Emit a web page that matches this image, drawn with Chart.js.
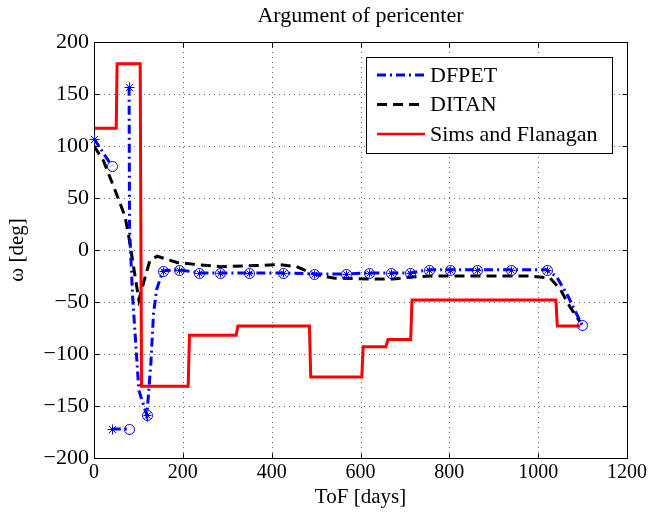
<!DOCTYPE html>
<html>
<head>
<meta charset="utf-8">
<title>Argument of pericenter</title>
<script src="https://cdn.jsdelivr.net/npm/chart.js@4.4.1/dist/chart.umd.min.js"></script>
<style>
  html, body { margin: 0; padding: 0; background: #fff; }
  #wrap { width: 653px; height: 513px; }
</style>
</head>
<body>
<div id="wrap"><canvas id="chart" width="653" height="513"></canvas></div>
<script>
// axis ticks
const xTicks = [0, 200, 400, 600, 800, 1000, 1200];
const yTicks = [-200, -150, -100, -50, 0, 50, 100, 150, 200];

const seriesNames = ['DFPET', 'DITAN', 'Sims and Flanagan'];

// DFPET: three legs, null y breaks the line; marks: * leg start, o leg end, @ node
const dfpetX = [0, 40, 40, 40, 79, 79, 79, 80, 87, 94, 101, 119, 128, 134, 141, 155, 192, 237, 284, 350, 425, 495,
                568, 620, 668, 712, 755, 802, 863, 938, 1019, 1042, 1068, 1087, 1099];
const dfpetY = [107, 81, null, -172, -172, null, 157, 20, -45, -90, -135, -159, -109, -61, -38, -20, -19, -22, -22, -22, -22, -23,
                -23, -22, -22, -22, -19, -19, -19, -19, -19, -26, -45, -62, -72];
const dfpetMark = ['*', 'o', '', '*', 'o', '', '*', '', '', '', '', '@', '', '', '', '@', '@', '@', '@', '@', '@', '@',
                   '@', '@', '@', '@', '@', '@', '@', '@', '@', '', '', '', 'o'];

// DITAN
const ditanX = [0, 21, 47, 70, 78, 89, 101, 115, 126, 142, 187, 231, 284, 366, 419, 456, 494, 539, 629, 673, 712, 757,
                862, 982, 1027, 1050, 1072, 1094];
const ditanY = [100, 86, 58, 32, 14, -16, -48, -26, -10, -6, -12, -14, -16, -15, -14, -16, -23, -27, -28, -28, -26, -25,
                -25, -25, -27, -38, -55, -69];

// Sims and Flanagan
const simsX = [0, 50, 52, 104, 107, 212, 215, 320, 324, 485, 488, 603, 606, 657, 662, 713, 716, 1040, 1043, 1095];
const simsY = [117, 117, 179, 179, -131, -131, -82, -82, -73, -73, -122, -122, -93, -93, -86, -86, -48, -48, -73, -73];

const BLUE = '#0000ff';
const RED = '#ff0000';
const SERIF = '"Liberation Serif", "Times New Roman", serif';

function pts(xs, ys) {
    return xs.map((x, i) => ({ x: x, y: ys[i] }));
}

function fmt(v) {
    return v < 0 ? '\u2212' + Math.abs(v) : String(v);
}

function drawMark(ctx, kind, x, y) {
    const cx = Math.round(x) + 0.5, cy = Math.round(y) + 0.5;
    ctx.beginPath();
    if (kind === 'o' || kind === '@') {
        ctx.moveTo(cx + 5, cy);
        ctx.arc(cx, cy, 5, 0, Math.PI * 2);
    }
    if (kind === '*' || kind === '@') {
        const r = kind === '*' ? 5 : 4;
        const d = r * 0.72;
        ctx.moveTo(cx - r, cy); ctx.lineTo(cx + r, cy);
        ctx.moveTo(cx, cy - r); ctx.lineTo(cx, cy + r);
        ctx.moveTo(cx - d, cy - d); ctx.lineTo(cx + d, cy + d);
        ctx.moveTo(cx - d, cy + d); ctx.lineTo(cx + d, cy - d);
    }
    ctx.stroke();
}

// dotted grid, box, inward ticks and DFPET markers like the original figure
const framePlugin = {
    id: 'frame',
    beforeDatasetsDraw(chart) {
        const { ctx, chartArea: a, scales: { x, y } } = chart;
        ctx.save();
        ctx.strokeStyle = 'rgba(0,0,0,0.6)';
        ctx.lineWidth = 1;
        ctx.setLineDash([1, 4]);
        xTicks.slice(1, -1).forEach(v => {
            const px = Math.round(x.getPixelForValue(v)) + 0.5;
            ctx.beginPath(); ctx.moveTo(px, a.top); ctx.lineTo(px, a.bottom); ctx.stroke();
        });
        yTicks.slice(1, -1).forEach(v => {
            const py = Math.round(y.getPixelForValue(v)) + 0.5;
            ctx.beginPath(); ctx.moveTo(a.left, py); ctx.lineTo(a.right, py); ctx.stroke();
        });
        ctx.restore();
    },
    afterDatasetsDraw(chart) {
        const { ctx, chartArea: a, scales: { x, y } } = chart;

        const L = Math.round(a.left) + 0.5, R = Math.round(a.right) + 0.5;
        const T = Math.round(a.top) + 0.5, B = Math.round(a.bottom) + 0.5;
        ctx.save();
        ctx.strokeStyle = '#000';
        ctx.lineWidth = 1;
        ctx.strokeRect(L, T, R - L, B - T);
        const len = 5;
        ctx.beginPath();
        xTicks.forEach(v => {
            const px = Math.round(x.getPixelForValue(v)) + 0.5;
            ctx.moveTo(px, B); ctx.lineTo(px, B - len);
            ctx.moveTo(px, T); ctx.lineTo(px, T + len);
        });
        yTicks.forEach(v => {
            const py = Math.round(y.getPixelForValue(v)) + 0.5;
            ctx.moveTo(L, py); ctx.lineTo(L + len, py);
            ctx.moveTo(R, py); ctx.lineTo(R - len, py);
        });
        ctx.stroke();
        ctx.restore();

        // markers on the DFPET legs
        const meta = chart.getDatasetMeta(0);
        ctx.save();
        ctx.strokeStyle = BLUE;
        ctx.lineWidth = 1;
        meta.data.forEach((p, i) => {
            if (dfpetMark[i]) drawMark(ctx, dfpetMark[i], p.x, p.y);
        });
        ctx.restore();
    },
    afterDraw(chart) {
        // legend box in the upper right corner of the axes
        const ctx = chart.ctx;
        const bx = 366.5, by = 57.5, bw = 246, bh = 96;
        ctx.save();
        ctx.fillStyle = '#fff';
        ctx.fillRect(bx, by, bw, bh);
        ctx.strokeStyle = '#000';
        ctx.lineWidth = 1;
        ctx.strokeRect(bx, by, bw, bh);
        ctx.font = '22px ' + SERIF;
        ctx.textBaseline = 'middle';
        ctx.fillStyle = '#000';
        chart.data.datasets.slice().sort((p, q) => p.legendIndex - q.legendIndex).forEach((ds, i) => {
            const ly = 75 + i * 29.5;
            ctx.save();
            ctx.strokeStyle = ds.borderColor;
            ctx.lineWidth = ds.legendWidth;
            ctx.setLineDash(ds.borderDash || []);
            ctx.beginPath();
            ctx.moveTo(377, ly);
            ctx.lineTo(425, ly);
            ctx.stroke();
            ctx.restore();
            ctx.fillText(ds.label, 430, ly + 1);
        });
        ctx.restore();
    }
};

Chart.defaults.font.family = SERIF;
Chart.defaults.color = '#000';

const canvas = document.getElementById('chart');
new Chart(canvas, {
    type: 'line',
    data: {
        datasets: [
            {
                label: seriesNames[0],
                legendIndex: 0,
                legendWidth: 3,
                data: pts(dfpetX, dfpetY),
                borderColor: BLUE,
                borderWidth: 3,
                borderDash: [9, 4, 2, 4],
                pointRadius: 0,
                pointHoverRadius: 0,
                clip: false,
                order: 0
            },
            {
                label: seriesNames[1],
                legendIndex: 1,
                legendWidth: 3,
                data: pts(ditanX, ditanY),
                borderColor: '#000',
                borderWidth: 3,
                borderDash: [10, 6],
                pointRadius: 0,
                order: 2
            },
            {
                label: seriesNames[2],
                legendIndex: 2,
                legendWidth: 2.5,
                data: pts(simsX, simsY),
                borderColor: RED,
                borderWidth: 3,
                pointRadius: 0,
                order: 1
            }
        ]
    },
    options: {
        responsive: false,
        animation: false,
        devicePixelRatio: 1,
        spanGaps: false,
        elements: { line: { tension: 0, fill: false } },
        layout: { padding: { top: 0, right: 26, bottom: 0, left: 0 } },
        plugins: {
            legend: { display: false },
            tooltip: { enabled: false },
            title: {
                display: true,
                text: 'Argument of pericenter',
                fullSize: false,
                color: '#000',
                font: { size: 22, weight: 'normal', family: SERIF },
                padding: { top: 3, bottom: 12.6 }
            }
        },
        scales: {
            x: {
                type: 'linear',
                min: xTicks[0],
                max: xTicks[xTicks.length - 1],
                afterBuildTicks: s => { s.ticks = xTicks.map(v => ({ value: v })); },
                afterFit: s => { s.height = 55; },
                grid: { display: false, drawTicks: false },
                border: { display: false },
                ticks: { autoSkip: false, maxRotation: 0, padding: 3, font: { size: 20 }, callback: v => fmt(v) },
                title: { display: true, text: 'ToF [days]', font: { size: 21 }, padding: { top: 0, bottom: 3 } }
            },
            y: {
                type: 'linear',
                min: yTicks[0],
                max: yTicks[yTicks.length - 1],
                afterBuildTicks: s => { s.ticks = yTicks.map(v => ({ value: v })); },
                afterFit: s => { s.width = 94; },
                grid: { display: false, drawTicks: false },
                border: { display: false },
                ticks: { autoSkip: false, padding: 5, font: { size: 22 }, callback: v => fmt(v) },
                title: { display: true, text: 'ω [deg]', font: { size: 21 }, padding: { top: 5, bottom: 0 } }
            }
        }
    },
    plugins: [framePlugin]
});
</script>
</body>
</html>
